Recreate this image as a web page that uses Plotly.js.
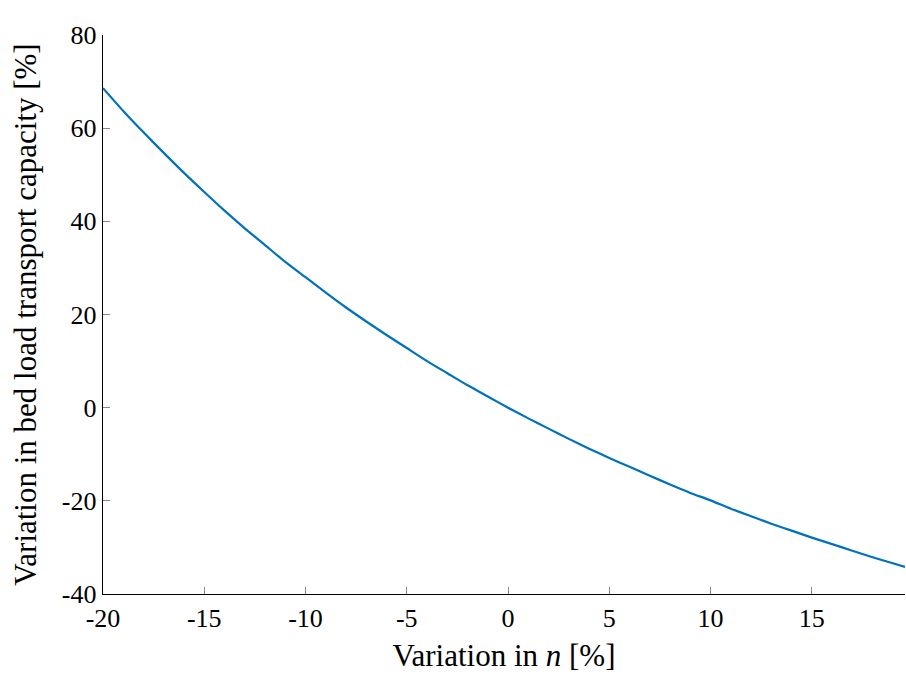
<!DOCTYPE html>
<html>
<head>
<meta charset="utf-8">
<script src="https://cdn.plot.ly/plotly-3.0.1.min.js"></script>
<style>html,body{margin:0;padding:0;background:#fff;}#chart{width:906px;height:682px;}</style>
</head>
<body>
<div id="chart"></div>
<script>
const nVariation = [-20,-19,-18,-17,-16,-15,-14,-13,-12,-11,-10,-9,-8,-7,-6,-5,-4,-3,-2,-1,0,1,2,3,4,5,6,7,8,9,10,11,12,13,14,15,16,17,18,19,19.6];
const capacityVariation = [68.6,63.7,59.1,54.7,50.4,46.3,42.3,38.5,34.9,31.3,28.0,24.7,21.5,18.5,15.6,12.8,10.0,7.4,4.8,2.4,0,-2.3,-4.5,-6.7,-8.8,-10.8,-12.7,-14.6,-16.5,-18.3,-19.9,-21.7,-23.3,-24.9,-26.4,-27.9,-29.3,-30.7,-32.1,-33.4,-34.2];
const xTickVals = [-20,-15,-10,-5,0,5,10,15];
const yTickVals = [-40,-20,0,20,40,60,80];

const font = "Liberation Serif";
Plotly.newPlot('chart', [{
  x: nVariation, y: capacityVariation, type: 'scatter', mode: 'lines',
  line: {color: '#0072BD', width: 2.2, shape: 'spline', smoothing: 0.6}, hoverinfo: 'skip'
}], {
  width: 906, height: 682,
  margin: {l: 103, r: 1, t: 35, b: 88},
  paper_bgcolor: '#fff', plot_bgcolor: '#fff',
  showlegend: false,
  font: {family: font, color: '#000', size: 26},
  xaxis: {
    range: [-20, 19.6], tickvals: xTickVals, ticktext: xTickVals.map(String),
    ticks: 'inside', ticklen: 7, tickcolor: '#888', tickwidth: 1,
    showline: true, linecolor: '#000', linewidth: 1.3, showgrid: false, zeroline: false,
    tickfont: {family: font, size: 26, color: '#000'},
    title: {text: 'Variation in <i>n</i> [%]', font: {family: font, size: 31, color: '#000'}, standoff: 12}
  },
  yaxis: {
    range: [-40, 80], tickvals: yTickVals, ticktext: yTickVals.map(String),
    ticks: 'inside', ticklen: 7, tickcolor: '#888', tickwidth: 1,
    showline: true, linecolor: '#000', linewidth: 1.3, showgrid: false, zeroline: false,
    tickfont: {family: font, size: 26, color: '#000'},
    title: {text: 'Variation in bed load transport capacity [%]', font: {family: font, size: 31, color: '#000'}, standoff: 16}
  }
}, {staticPlot: true, displayModeBar: false});
</script>
</body>
</html>
